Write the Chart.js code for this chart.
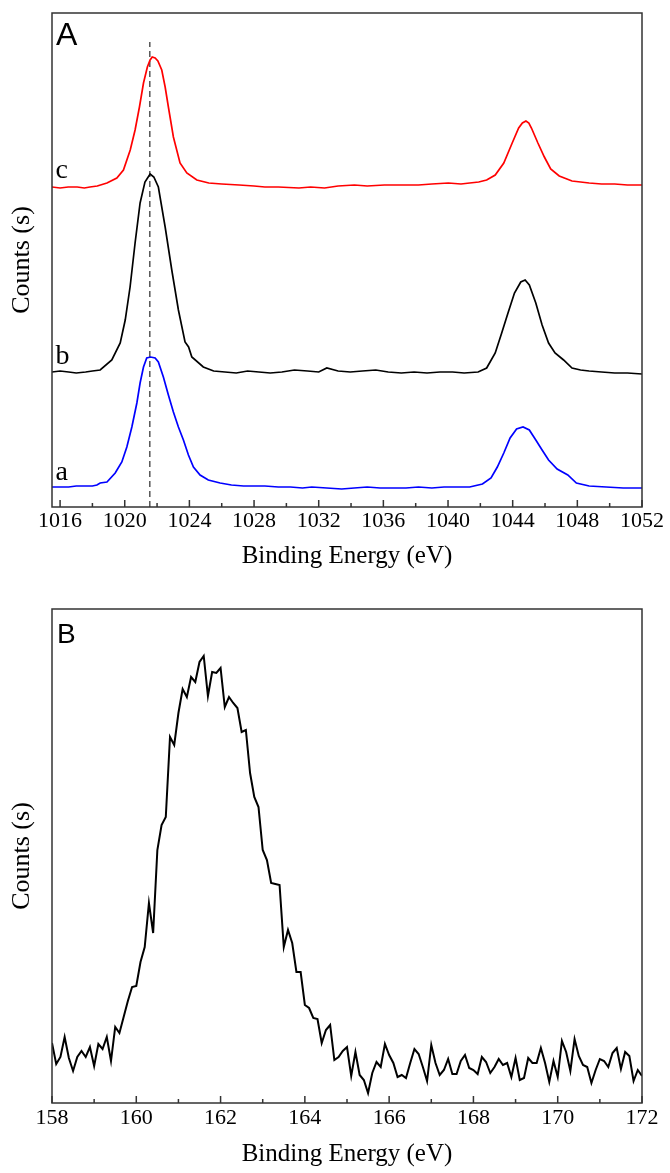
<!DOCTYPE html>
<html>
<head>
<meta charset="utf-8">
<title>XPS spectra</title>
<script src="https://cdn.jsdelivr.net/npm/chart.js"></script>
<style>
    body { margin: 0; background: #fff; }
    canvas { display: block; }
</style>
</head>
<body>
<canvas id="niChart" width="670" height="590"></canvas>
<canvas id="sChart" width="670" height="583"></canvas>
<script>
// ---- panel A : three spectra (binding energy in eV, counts in arbitrary units) ----
const cEnergy = [1015.5, 1016.0, 1016.5, 1017.06, 1017.5, 1017.85, 1018.3, 1018.9, 1019.51, 1019.92, 1020.34, 1020.64, 1020.91, 1021.16, 1021.4, 1021.57, 1021.7, 1021.88, 1022.05, 1022.29, 1022.5, 1022.7, 1023.01, 1023.42, 1023.84, 1024.46, 1025.2, 1026.0, 1027.08, 1028.0, 1028.67, 1029.5, 1030.78, 1031.5, 1032.36, 1033.2, 1034.21, 1035.0, 1036.06, 1037.0, 1038.17, 1039.0, 1040.02, 1040.8, 1041.34, 1041.9, 1042.39, 1042.92, 1043.45, 1043.97, 1044.37, 1044.6, 1044.82, 1045.0, 1045.16, 1045.56, 1045.96, 1046.35, 1046.88, 1047.67, 1048.2, 1048.73, 1049.5, 1050.31, 1051.1, 1052];
const cCounts = [320, 319, 320, 320, 319, 320, 321, 324, 329, 337, 357, 377, 400, 424, 440, 447, 450, 449, 446, 437, 420, 400, 370, 344, 334, 327, 324, 323, 322, 321, 320, 320, 319, 320, 319, 321, 322, 321, 322, 322, 322, 323, 324, 323, 324, 325, 327, 332, 344, 364, 379, 384, 386, 384, 379, 364, 350, 338, 331, 326, 325, 324, 323, 323, 322, 322];

const bEnergy = [1015.5, 1016.0, 1016.53, 1017.0, 1017.58, 1018.0, 1018.48, 1019.2, 1019.72, 1020.03, 1020.33, 1020.64, 1020.95, 1021.25, 1021.57, 1021.8, 1022.08, 1022.5, 1022.91, 1023.32, 1023.73, 1023.95, 1024.15, 1024.86, 1025.5, 1026.2, 1026.9, 1027.6, 1028.3, 1029.0, 1029.72, 1030.5, 1031.31, 1032.0, 1032.5, 1033.2, 1033.95, 1034.7, 1035.53, 1036.3, 1037.11, 1037.9, 1038.7, 1039.5, 1040.28, 1041.0, 1041.86, 1042.39, 1042.92, 1043.32, 1043.71, 1044.11, 1044.5, 1044.77, 1045.03, 1045.43, 1045.82, 1046.22, 1046.62, 1047.15, 1047.67, 1048.2, 1048.73, 1049.5, 1050.31, 1051.1, 1052];
const bCounts = [135, 136, 135, 134, 135, 136, 137, 147, 164, 187, 220, 264, 304, 325, 333, 330, 320, 280, 237, 197, 165, 160, 150, 140, 136, 135, 134, 136, 135, 134, 135, 137, 136, 135, 139, 136, 135, 136, 137, 135, 134, 135, 134, 135, 135, 134, 135, 139, 154, 174, 194, 214, 225, 227, 222, 204, 182, 164, 154, 147, 139, 137, 136, 135, 134, 134, 133];

const aEnergy = [1015.5, 1016.0, 1016.53, 1017.0, 1017.58, 1018.0, 1018.28, 1018.48, 1018.9, 1019.41, 1019.82, 1020.13, 1020.44, 1020.75, 1020.95, 1021.16, 1021.36, 1021.6, 1021.88, 1022.08, 1022.39, 1022.7, 1023.01, 1023.32, 1023.63, 1023.94, 1024.25, 1024.66, 1025.17, 1025.9, 1026.6, 1027.35, 1028.0, 1028.67, 1029.5, 1030.25, 1031.0, 1031.57, 1032.5, 1033.42, 1034.2, 1035.0, 1035.8, 1036.59, 1037.4, 1038.17, 1039.0, 1039.75, 1040.5, 1041.34, 1042.13, 1042.66, 1043.05, 1043.45, 1043.84, 1044.24, 1044.64, 1045.03, 1045.43, 1045.82, 1046.22, 1046.75, 1047.41, 1047.94, 1048.73, 1049.78, 1050.84, 1052];
const aCounts = [20, 20, 20, 21, 21, 21, 22, 24, 25, 34, 45, 60, 80, 104, 124, 140, 149, 150, 149, 145, 130, 112, 95, 80, 67, 52, 40, 32, 27, 24, 22, 21, 21, 21, 20, 20, 19, 20, 19, 18, 19, 20, 19, 19, 19, 20, 19, 20, 20, 20, 23, 29, 40, 54, 69, 78, 80, 77, 67, 57, 47, 38, 32, 24, 21, 20, 19, 19];

// dashed reference line at the main peak
const dashEnergy = [1021.55, 1021.55];
const dashCounts = [0, 465];

const niTicks = [1016, 1020, 1024, 1028, 1032, 1036, 1040, 1044, 1048, 1052];
const curveLabels = ['a', 'b', 'c'];
const labelEnergy = [1015.72, 1015.72, 1015.72];
const labelCounts = [27, 143, 329];

// ---- panel B : one spectrum, 0.1 eV steps from 158 to 172 eV ----
const sCounts = [
    60, 39, 46, 66, 45, 32, 46, 52, 46, 56,
    37, 59, 54, 66, 42, 76, 70, 86, 102, 116,
    117, 141, 156, 200, 170, 253, 278, 286, 366, 358,
    390, 414, 406, 426, 421, 441, 447, 407, 431, 430,
    435, 396, 406, 400, 395, 371, 373, 330, 306, 296,
    253, 243, 220, 219, 218, 156, 173, 160, 131, 131,
    98, 95, 85, 84, 60, 73, 78, 43, 46, 52,
    56, 27, 51, 28, 23, 10, 30, 41, 36, 59,
    48, 40, 26, 28, 25, 40, 54, 49, 36, 22,
    58, 40, 28, 33, 44, 29, 29, 42, 48, 35,
    33, 29, 46, 41, 30, 36, 44, 38, 40, 26,
    45, 23, 25, 45, 40, 40, 55, 40, 21, 42,
    26, 62, 51, 32, 64, 47, 38, 36, 20, 33,
    44, 42, 36, 50, 55, 34, 51, 47, 22, 33,
    27
];
const sEnergy = sCounts.map((_, i) => +(158 + i * 0.1).toFixed(1));
const sTicks = [158, 160, 162, 164, 166, 168, 170, 172];

const serif = "'Liberation Serif', 'Times New Roman', serif";
const sans = "'Liberation Sans', Arial, sans-serif";

function pts(xs, ys) {
    return xs.map((x, i) => ({ x: x, y: ys[i] }));
}

// frame, inward tick marks, panel letter and curve labels
const framePlugin = {
    id: 'frame',
    afterDatasetsDraw(chart, args, opts) {
        const { ctx, chartArea: a } = chart;
        const xs = chart.scales.x, ys = chart.scales.y;
        ctx.save();
        ctx.strokeStyle = '#333';
        ctx.lineWidth = 1.5;
        ctx.strokeRect(a.left, a.top, a.right - a.left, a.bottom - a.top);

        const major = opts.major;
        ctx.beginPath();
        major.forEach((v, i) => {
            const px = xs.getPixelForValue(v);
            ctx.moveTo(px, a.bottom);
            ctx.lineTo(px, a.bottom - 7);
            if (i < major.length - 1) {
                const mx = xs.getPixelForValue((v + major[i + 1]) / 2);
                ctx.moveTo(mx, a.bottom);
                ctx.lineTo(mx, a.bottom - 4);
            }
        });
        ctx.stroke();

        ctx.fillStyle = '#000';
        ctx.textBaseline = 'alphabetic';
        ctx.textAlign = 'left';
        ctx.font = opts.letterFont;
        ctx.fillText(opts.letter, a.left + opts.letterDx, a.top + opts.letterDy);

        if (opts.labels) {
            ctx.font = '28px ' + serif;
            opts.labels.forEach((t, i) => {
                ctx.fillText(t, xs.getPixelForValue(opts.labelX[i]), ys.getPixelForValue(opts.labelY[i]));
            });
        }
        ctx.restore();
    }
};

function makeOptions(xMin, xMax, ticks, xHeight, titlePad, tickPad, frameOpts, topPad) {
    return {
        responsive: false,
        animation: false,
        events: [],
        layout: { padding: { top: topPad, right: 28, left: 0, bottom: 0 } },
        plugins: {
            legend: { display: false },
            tooltip: { enabled: false },
            frame: frameOpts
        },
        scales: {
            x: {
                type: 'linear',
                min: xMin,
                max: xMax,
                grid: { display: false, drawTicks: false },
                border: { display: false },
                afterBuildTicks: (scale) => { scale.ticks = ticks.map(v => ({ value: v })); },
                afterFit: (scale) => { scale.height = xHeight; },
                ticks: {
                    color: '#000',
                    padding: tickPad,
                    maxRotation: 0,
                    autoSkip: false,
                    font: { family: serif, size: 22 },
                    callback: (v) => String(v)
                },
                title: {
                    display: true,
                    text: 'Binding Energy (eV)',
                    color: '#000',
                    font: { family: serif, size: 25 },
                    padding: { top: 0, bottom: titlePad }
                }
            },
            y: {
                min: 0,
                max: 494,
                grid: { display: false, drawTicks: false },
                border: { display: false },
                ticks: { display: false },
                afterFit: (scale) => { scale.width = 52; },
                title: {
                    display: true,
                    text: 'Counts (s)',
                    color: '#000',
                    font: { family: serif, size: 26 },
                    padding: { top: 7, bottom: 0 }
                }
            }
        }
    };
}

function lineSet(data, color, width) {
    return {
        data: data,
        borderColor: color,
        borderWidth: width,
        pointRadius: 0,
        tension: 0,
        fill: false
    };
}

const dashSet = lineSet(pts(dashEnergy, dashCounts), '#555', 1.5);
dashSet.borderDash = [6, 4];

new Chart(document.getElementById('niChart'), {
    type: 'line',
    data: {
        datasets: [
            lineSet(pts(aEnergy, aCounts), '#0000ff', 1.7),
            lineSet(pts(bEnergy, bCounts), '#000000', 1.7),
            lineSet(pts(cEnergy, cCounts), '#ff0000', 1.7),
            dashSet
        ]
    },
    options: makeOptions(1015.5, 1052, niTicks, 83, 19, 1, {
        major: niTicks,
        letter: 'A',
        letterFont: '32px ' + sans,
        letterDx: 4,
        letterDy: 32,
        labels: curveLabels,
        labelX: labelEnergy,
        labelY: labelCounts
    }, 13),
    plugins: [framePlugin]
});

new Chart(document.getElementById('sChart'), {
    type: 'line',
    data: {
        datasets: [
            lineSet(pts(sEnergy, sCounts), '#000000', 2)
        ]
    },
    options: makeOptions(158, 172, sTicks, 70, 4, 2.5, {
        major: sTicks,
        letter: 'B',
        letterFont: '28px ' + sans,
        letterDx: 5,
        letterDy: 34
    }, 19),
    plugins: [framePlugin]
});
</script>
</body>
</html>
